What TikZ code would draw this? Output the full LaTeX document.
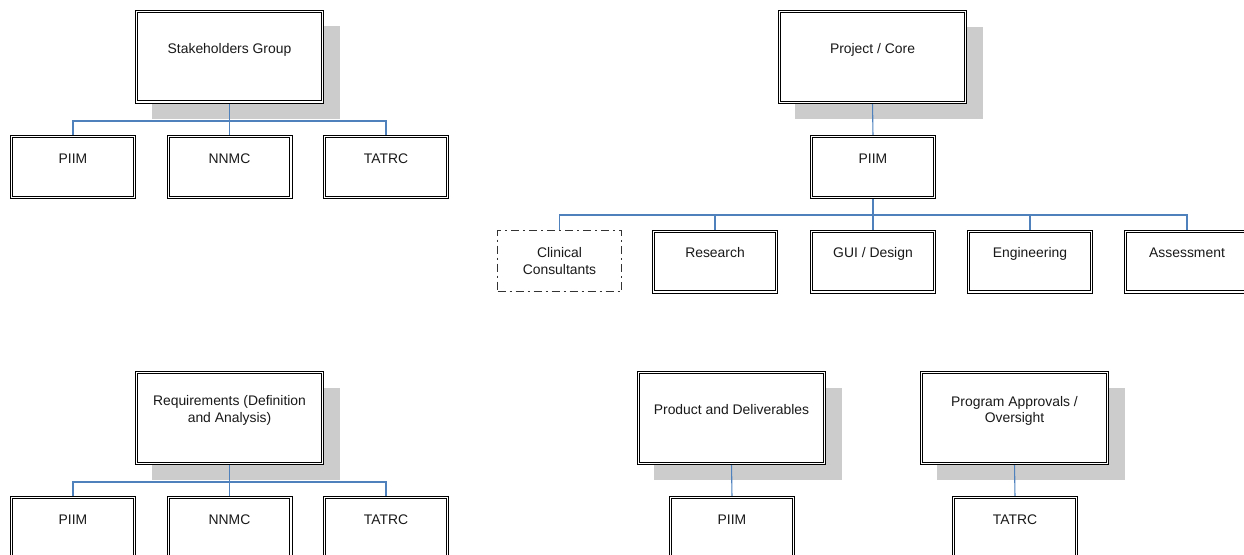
\documentclass[tikz,border=0pt]{standalone}
\usepackage{fontspec}
\setmainfont{Liberation Sans}
\pgfdeclarelayer{shadow}
\pgfdeclarelayer{conn}
\pgfsetlayers{shadow,conn,main}
\definecolor{connblue}{RGB}{79,129,189}
\definecolor{shadowgray}{RGB}{204,204,204}
\newcommand\boxshadow[1]{\fill[shadowgray] ([shift={(15,15)}]#1.north west) rectangle ([shift={(18,17)}]#1.south east);}
\tikzset{
  dbox/.style={draw=black, double=white, double distance=1.3pt, line width=1pt, fill=white, inner sep=0pt, outer sep=0pt},
  parentbox/.style={dbox, minimum width=185.7pt, minimum height=90.7pt},
  childbox/.style={dbox, minimum width=122.7pt, minimum height=60.7pt},
  dashbox/.style={draw=black!80, line width=1.3pt, dash pattern=on 8pt off 4pt on 2pt off 4pt, minimum width=124pt, minimum height=61pt, inner sep=0pt, outer sep=0pt},
  lbl/.style={anchor=base, inner sep=0pt, align=center, text=black!90, font=\fontsize{13.9}{16.5}\selectfont},
  link/.style={draw=connblue, line width=1.1pt},
}
\begin{document}
\begin{tikzpicture}[x=1pt, y=-1pt]
\useasboundingbox (0,0) rectangle (1244,554);
% ---------- Stakeholders Group ----------
\node[parentbox] (sg) at (229.5,56.5) {};
\node[lbl] (sgt) at (229.5,53.5) {Stakeholders Group};
\node[childbox] (sg1) at (73,167) {};
\node[lbl] (sg1t) at (73,163) {PIIM};
\node[childbox] (sg2) at (229.5,167) {};
\node[lbl] (sg2t) at (229.5,163) {NNMC};
\node[childbox] (sg3) at (386,167) {};
\node[lbl] (sg3t) at (386,163) {TATRC};
\coordinate (sgbus) at (229.5,121);
% ---------- Project / Core ----------
\node[parentbox] (pc) at (872.5,57) {};
\node[lbl] (pct) at (872.5,53.5) {Project / Core};
\node[childbox] (pc1) at (873,167) {};
\node[lbl] (pc1t) at (873,163) {PIIM};
\node[dashbox] (r1) at (559.5,261) {};
\node[lbl] (r1t) at (559.5,274) {Clinical\\Consultants};
\node[childbox] (r2) at (715,261.5) {};
\node[lbl] (r2t) at (715,257.5) {Research};
\node[childbox] (r3) at (873,261.5) {};
\node[lbl] (r3t) at (873,257.5) {GUI / Design};
\node[childbox] (r4) at (1030,261.5) {};
\node[lbl] (r4t) at (1030,257.5) {Engineering};
\node[childbox] (r5) at (1187,261.5) {};
\node[lbl] (r5t) at (1187,257.5) {Assessment};
\coordinate (rbus) at (873,215);
% ---------- Requirements ----------
\node[parentbox] (rq) at (229.5,418) {};
\node[lbl] (rqt) at (229.5,422) {Requirements (Definition\\and Analysis)};
\node[childbox] (rq1) at (73,528) {};
\node[lbl] (rq1t) at (73,524) {PIIM};
\node[childbox] (rq2) at (229.5,528) {};
\node[lbl] (rq2t) at (229.5,524) {NNMC};
\node[childbox] (rq3) at (386,528) {};
\node[lbl] (rq3t) at (386,524) {TATRC};
\coordinate (rqbus) at (229.5,482);
% ---------- Product and Deliverables ----------
\node[parentbox] (pd) at (731.5,418) {};
\node[lbl] (pdt) at (731.5,414) {Product and Deliverables};
\node[childbox] (pd1) at (732,528) {};
\node[lbl] (pd1t) at (732,524) {PIIM};
% ---------- Program Approvals ----------
\node[parentbox] (pa) at (1014.5,418) {};
\node[lbl] (pat) at (1014.5,422.7) {Program Approvals /\\Oversight};
\node[childbox] (pa1) at (1015,528) {};
\node[lbl] (pa1t) at (1015,524) {TATRC};
% ---------- shadows ----------
\begin{pgfonlayer}{shadow}
\boxshadow{sg}
\boxshadow{pc}
\boxshadow{rq}
\boxshadow{pd}
\boxshadow{pa}
\end{pgfonlayer}
% ---------- connectors ----------
\begin{pgfonlayer}{conn}
\draw[link] (sg.south) -- (sg2.north);
\draw[link] (sg1.north) |- (sgbus) -| (sg3.north);
\draw[link] (pc.south) -- (pc1.north);
\draw[link] (pc1.south) -- (r3.north);
\draw[link] (r1.north) |- (rbus) -| (r5.north);
\draw[link] (r2.north) -- (r2.north |- rbus);
\draw[link] (r4.north) -- (r4.north |- rbus);
\draw[link] (rq.south) -- (rq2.north);
\draw[link] (rq1.north) |- (rqbus) -| (rq3.north);
\draw[link] (pd.south) -- (pd1.north);
\draw[link] (pa.south) -- (pa1.north);
\end{pgfonlayer}
\end{tikzpicture}
\end{document}
